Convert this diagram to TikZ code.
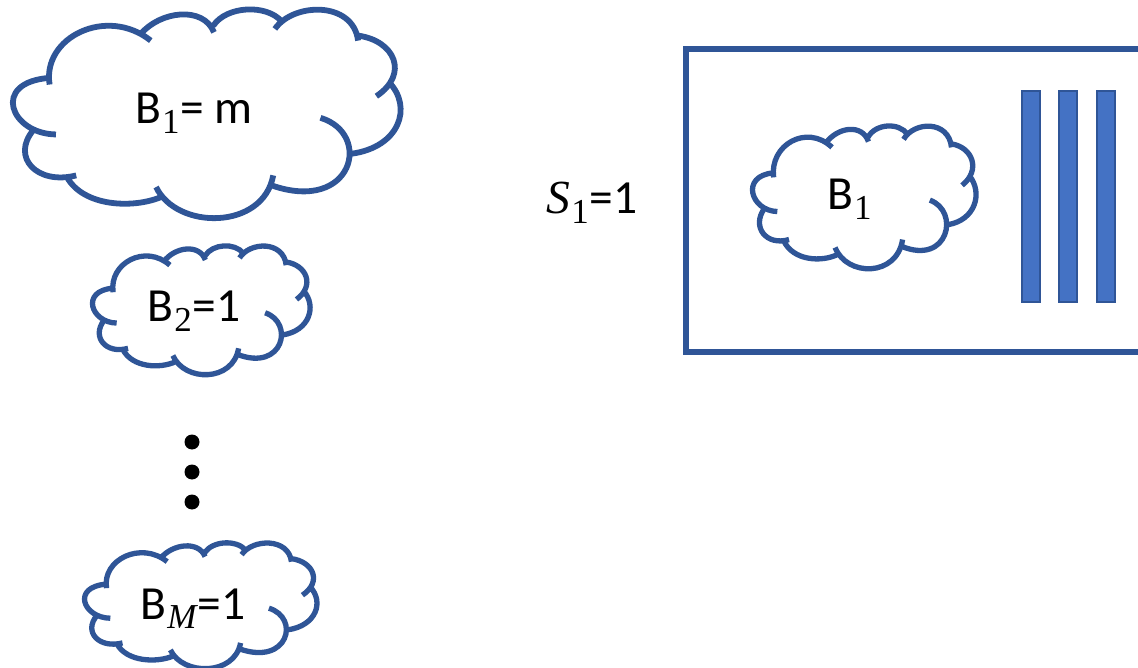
\documentclass[tikz,border=0pt]{standalone}
\usepackage{fontspec}
\setmainfont{Carlito}
\newfontfamily\mathlike{Liberation Serif}
\definecolor{cloudblue}{HTML}{2F5597}
\definecolor{barblue}{HTML}{4472C4}
\tikzset{
  x=1pt,y=-1pt,
  frame/.style={draw=cloudblue,line width=5.5pt},
  barbox/.style={draw=cloudblue,line width=1.2pt,fill=barblue},
  dotmark/.style={circle,fill=black,inner sep=0pt,minimum size=15pt},
  lbl/.style={font=\fontsize{47.5}{47.5}\selectfont,text=black,inner sep=0pt,anchor=base},
}
\newcommand{\cloudat}[5]{% x0,y0,w,h,line width
  \begin{scope}[shift={(#1,#2)},xscale=#3/1178,yscale=#4/628,shift={(-35,-22)}]
    \draw[draw=cloudblue,line width=#5]
      (148,252) .. controls (125,110) and (320,15) .. (452,120)
      (420,102) .. controls (480,30) and (610,15) .. (642,95)
      (640,75) .. controls (680,15) and (800,10) .. (845,62)
      (825,85) .. controls (880,5) and (1060,0) .. (1075,120)
      (1075,105) .. controls (1185,120) and (1230,220) .. (1130,287)
      (1168,245) .. controls (1240,320) and (1200,440) .. (1055,460)
      (962,352) .. controls (1120,400) and (1060,640) .. (815,555)
      (820,525) .. controls (790,690) and (530,690) .. (468,560)
      (483,590) .. controls (400,625) and (250,620) .. (200,530)
      (228,525) .. controls (110,555) and (30,470) .. (100,388)
      (167,402) .. controls (30,400) and (-30,245) .. (148,232);
  \end{scope}
}
\newcommand{\sub}[1]{\kern1pt\raisebox{-0.2em}{\fontsize{35}{35}\selectfont\mathlike #1}\kern1pt}
\begin{document}
\begin{tikzpicture}
  \useasboundingbox (0,0) rectangle (1138,668);
  \fill[white] (0,0) rectangle (1138,668);
  \begin{scope}
    \clip (0,0) rectangle (1138,668);
    \cloudat{12}{8}{392}{209}{5.8pt}
    \cloudat{92}{245}{220}{129}{5.3pt}
    \cloudat{84}{542}{235}{126}{5.3pt}
    \cloudat{752}{125}{226}{143}{5.3pt}
    \path[frame] (1150,49) -- (686,49) -- (686,352) -- (1150,352);
    \path[barbox] (1022,91) rectangle (1040,302);
    \path[barbox] (1059,91) rectangle (1077,302);
    \path[barbox] (1097,91) rectangle (1115,302);
  \end{scope}
  \node[dotmark] (d1) at (192,442) {};
  \node[dotmark] (d2) at (192,472) {};
  \node[dotmark] (d3) at (192,502) {};
  \node[lbl] (big) at (194,124) {B\sub{1}= m};
  \node[lbl] (b2) at (194,322) {B\sub{2}=1};
  \node[lbl] (bm) at (193,619) {B\sub{\itshape M}=1};
  \node[lbl] (inner) at (850,210) {B\sub{1}};
  \node[lbl] (s1) at (592,214) {{\mathlike\itshape S}\sub{1}=1};
\end{tikzpicture}
\end{document}
